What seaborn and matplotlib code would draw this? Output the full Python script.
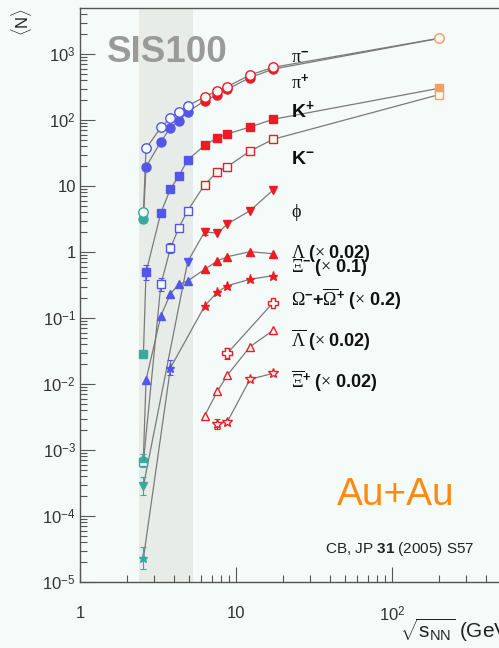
import numpy as np
import pandas as pd
import matplotlib
matplotlib.use("Agg")
import matplotlib.pyplot as plt
import seaborn as sns
from matplotlib.ticker import LogLocator, FixedLocator, FixedFormatter, NullFormatter

sns.set_theme(style="ticks")
plt.rcParams['font.family'] = ['Liberation Sans', 'DejaVu Sans']
plt.rcParams['mathtext.fontset'] = 'custom'
plt.rcParams['mathtext.rm'] = 'Liberation Serif'
plt.rcParams['mathtext.it'] = 'Liberation Serif:italic'
plt.rcParams['mathtext.bf'] = 'Liberation Sans:bold'
plt.rcParams['mathtext.sf'] = 'Liberation Sans'

# ---- particle yields <N> versus sqrt(s_NN) (GeV), central Au+Au / Pb+Pb ----
pim_sqrts = [2.55, 2.65, 3.3, 3.8, 4.3, 4.9, 6.3, 7.6, 8.8, 12.3, 17.3, 200]
pim_N = [4.0, 37, 77, 106, 134, 163, 225, 278, 320, 481, 628, 1730]

pip_sqrts = [2.55, 2.65, 3.3, 3.8, 4.3, 4.9, 6.3, 7.6, 8.8, 12.3, 17.3, 200]
pip_N = [3.2, 19.6, 46.9, 76.4, 97.6, 132, 196, 242, 292, 440, 590, 1720]

kp_sqrts = [2.55, 2.65, 3.3, 3.8, 4.3, 4.9, 6.3, 7.6, 8.8, 12.3, 17.3, 200]
kp_N = [0.0285, 0.49, 3.94, 9.0, 14.2, 24.8, 41.4, 54, 61.4, 78.3, 102.5, 302]
kp_err = [0, 0.3, 0, 0, 0, 0, 0, 0, 0, 0, 0, 0]

km_sqrts = [2.55, 3.3, 3.8, 4.3, 4.9, 6.3, 7.6, 8.8, 12.3, 17.3, 200]
km_N = [6.6e-4, 0.324, 1.14, 2.33, 4.23, 10.5, 16.5, 19.6, 33.9, 51, 242]
km_err = [0.2, 0.25, 0.2, 0, 0, 0, 0, 0, 0, 0, 0]

phi_sqrts = [2.55, 4.9, 6.3, 7.6, 8.8, 12.3, 17.3]
phi_N = [2.85e-4, 0.713, 2.03, 1.92, 2.66, 4.23, 8.7]
phi_err = [0.35, 0, 0.12, 0, 0, 0, 0]

lam_sqrts = [2.55, 2.65, 3.3, 3.8, 4.3, 4.9, 6.3, 7.6, 8.8, 12.3, 17.3]
lam_N = [7.6e-4, 0.0115, 0.108, 0.233, 0.324, 0.364, 0.547, 0.731, 0.849, 1.01, 0.942]
lam_err = [0.15, 0, 0, 0, 0, 0, 0, 0, 0, 0, 0]

xim_sqrts = [2.55, 3.8, 6.3, 7.6, 8.8, 12.3, 17.3]
xim_N = [2.3e-5, 0.0175, 0.152, 0.248, 0.308, 0.386, 0.438]
xim_err = [0.45, 0.3, 0, 0, 0, 0, 0]

omg_sqrts = [8.8, 17.3]
omg_N = [0.0292, 0.171]
omg_err = [0.2, 0]

alam_sqrts = [6.3, 7.6, 8.8, 12.3, 17.3]
alam_N = [0.0033, 0.0078, 0.0136, 0.0367, 0.065]

axip_sqrts = [7.6, 8.8, 12.3, 17.3]
axip_N = [0.00248, 0.00268, 0.0118, 0.0145]
axip_err = [0.2, 0, 0, 0]

sis100_range = (2.38, 5.3)

BG = '#f5fbf9'
C_SIS, C_AGS, C_SPS, C_RHIC = '#3aa89c', '#5257e6', '#ec1c24', '#f5a060'


def facility_colour(s):
    if s < 2.6:
        return C_SIS
    if s < 6:
        return C_AGS
    if s < 100:
        return C_SPS
    return C_RHIC


# (name, x, y, err, marker, filled, size)
species = [
    ("pi+", pip_sqrts, pip_N, None, 'o', True, 6.5),
    ("pi-", pim_sqrts, pim_N, None, 'o', False, 6.8),
    ("K+", kp_sqrts, kp_N, kp_err, 's', True, 6.0),
    ("K-", km_sqrts, km_N, km_err, 's', False, 6.0),
    ("phi", phi_sqrts, phi_N, phi_err, 'v', True, 6.3),
    ("Lambda", lam_sqrts, lam_N, lam_err, '^', True, 6.3),
    ("Xi-", xim_sqrts, xim_N, xim_err, '*', True, 6.5),
    ("Omega", omg_sqrts, omg_N, omg_err, 'P', False, 6.5),
    ("anti-Lambda", alam_sqrts, alam_N, None, '^', False, 6.3),
    ("anti-Xi+", axip_sqrts, axip_N, axip_err, '*', False, 7.5),
]

df = pd.concat([pd.DataFrame({"sqrts": x, "N": y, "species": name})
                for name, x, y, *_ in species], ignore_index=True)

fig = plt.figure(figsize=(4.99, 6.48), dpi=100, facecolor=BG)
ax = fig.add_axes([80 / 499, 1 - 582 / 648, 440 / 499, 574 / 648])
ax.set_facecolor(BG)
ax.set_xscale('log')
ax.set_yscale('log')
ax.set_xlim(1, 10 ** (440 / 156))
ax.set_ylim(1e-5, 10 ** (3 + 46 / 66))

ax.axvspan(*sis100_range, color='#e8ece9', zorder=0, lw=0)

sns.lineplot(data=df, x="sqrts", y="N", units="species", estimator=None,
             sort=False, color='#7a7a7a', lw=0.9, ax=ax, legend=False, zorder=1)

for name, xs, ys, errs, mk, filled, ms in species:
    for i, (x, y) in enumerate(zip(xs, ys)):
        col = facility_colour(x)
        if errs is not None and errs[i] > 0:
            lo = y - y / (1 + errs[i])
            hi = y * errs[i]
            ax.errorbar([x], [y], yerr=[[lo], [hi]], fmt='none', ecolor=col,
                        elinewidth=0.8, capsize=2, capthick=0.8, zorder=2)
        ax.plot([x], [y], ls='none', marker=mk, ms=ms,
                mfc=col if filled else BG, mec=col, mew=1.0, zorder=3)

ax.set_xlabel('')
ax.set_ylabel('')

# axes decoration
for side in ['left', 'bottom', 'top']:
    ax.spines[side].set_color('#555555')
    ax.spines[side].set_linewidth(1.0)
ax.spines['right'].set_visible(False)

ax.xaxis.set_major_locator(FixedLocator([1, 10, 100]))
ax.xaxis.set_major_formatter(FixedFormatter(['1', '10', r'10$^{\mathsf{2}}$']))
ax.xaxis.set_minor_locator(LogLocator(base=10, subs=np.arange(2, 10), numticks=20))
ax.xaxis.set_minor_formatter(NullFormatter())

ydec = [1e-5, 1e-4, 1e-3, 1e-2, 1e-1, 1, 10, 100, 1000]
ylab = [r'10$^{\mathsf{-5}}$', r'10$^{\mathsf{-4}}$', r'10$^{\mathsf{-3}}$', r'10$^{\mathsf{-2}}$',
        r'10$^{\mathsf{-1}}$', '1', '10', r'10$^{\mathsf{2}}$', r'10$^{\mathsf{3}}$']
ax.yaxis.set_major_locator(FixedLocator(ydec))
ax.yaxis.set_major_formatter(FixedFormatter(ylab))
ax.yaxis.set_minor_locator(LogLocator(base=10, subs=np.arange(2, 10), numticks=20))
ax.yaxis.set_minor_formatter(NullFormatter())

ax.tick_params(axis='both', which='major', direction='in', length=11, width=0.8,
               color='#555555', labelcolor='#333333', labelsize=12)
ax.tick_params(axis='both', which='minor', direction='in', length=5, width=0.8,
               color='#555555')
ax.tick_params(axis='x', which='major', pad=17)
ax.tick_params(axis='y', which='major', pad=3)
ax.tick_params(top=False, right=False, which='both')

# species labels
lx = 22.5
labels = [
    (r'$\mathrm{π}^{\mathbf{-}}$', 731),
    (r'$\mathrm{π}^{\mathbf{+}}$', 295),
    (r'$\mathbf{K^{+}}$', 111),
    (r'$\mathbf{K^{-}}$', 21.5),
    (r'$\mathrm{ϕ}$', 3.37),
    (r'$\mathrm{Λ}\ \mathbf{(}\mathrm{×}\ \mathbf{0.02)}$', 0.81),
    (r'$\mathrm{Ξ}^{\mathbf{-}}\ \mathbf{(}\mathrm{×}\ \mathbf{0.1)}$', 0.498),
    (r'$\mathrm{Ω}^{\mathbf{-}}\mathbf{+}\overline{\mathrm{Ω}}^{\mathbf{+}}\ \mathbf{(}\mathrm{×}\ \mathbf{0.2)}$', 0.1516),
    (r'$\overline{\mathrm{Λ}}\ \mathbf{(}\mathrm{×}\ \mathbf{0.02)}$', 0.0358),
    (r'$\overline{\mathrm{Ξ}}^{\mathbf{+}}\ \mathbf{(}\mathrm{×}\ \mathbf{0.02)}$', 0.0088),
]
for txt, yv in labels:
    size = 14 if 'K' in txt else 13
    ax.text(lx, yv, txt, fontsize=size, color='#111111', va='baseline', ha='left', zorder=4)

fig.text(107 / 499, 1 - 62 / 648, 'SIS100', fontsize=26.5, fontweight='bold',
         color='#9a9a9a', va='baseline', ha='left')
fig.text(337 / 499, 1 - 505 / 648, 'Au+Au', fontsize=28, color='#ff8a12',
         va='baseline', ha='left')
fig.text(325 / 499, 1 - 553 / 648, r'CB, JP $\mathbf{31}$ (2005) S57', fontsize=11,
         color='#222222', va='baseline', ha='left')
fig.text(22 / 499, 1 - 22 / 648, r'$\langle\mathsf{N}\rangle$', fontsize=12,
         rotation=90, color='#222222', va='center', ha='center')
fig.text(400 / 499, 1 - 638 / 648, r'$\sqrt{\mathsf{s}_{\mathsf{NN}}}$ (GeV)', fontsize=15,
         color='#222222', va='baseline', ha='left')

fig.savefig('out.png', dpi=100, facecolor=BG)
